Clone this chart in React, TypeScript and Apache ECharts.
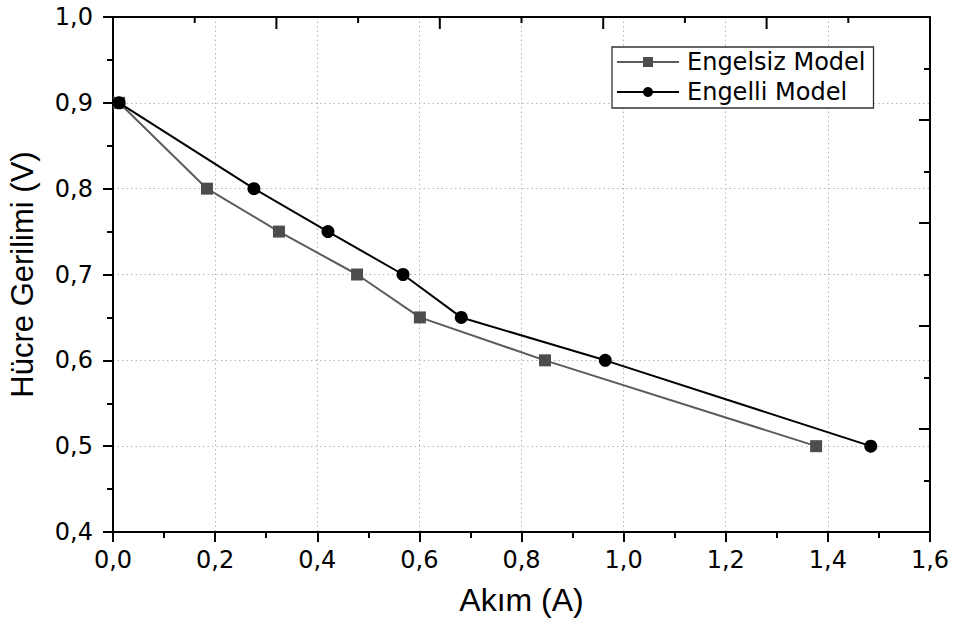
import React, { useEffect, useRef } from "react";
import * as echarts from "echarts";

const engelsizX = [0.012, 0.184, 0.325, 0.478, 0.601, 0.846, 1.377];
const engelsizY = [0.9, 0.8, 0.75, 0.7, 0.65, 0.6, 0.5];
const engelliX = [0.012, 0.276, 0.421, 0.568, 0.682, 0.964, 1.484];
const engelliY = [0.9, 0.8, 0.75, 0.7, 0.65, 0.6, 0.5];
const seriesNames = ["Engelsiz Model", "Engelli Model"];
const xTitle = "Akım (A)";
const yTitle = "Hücre Gerilimi (V)";
// top frame ticks: x position and tick length class (1 = long)
const topTickX = [0.16, 0.32, 0.48, 0.64, 0.8, 0.96, 1.12, 1.28, 1.44];
const topTickLong = [0, 1, 0, 1, 0, 1, 0, 1, 0];

const fmt = (v: number) => v.toFixed(1).replace(".", ",");

export default function App() {
  const ref = useRef<HTMLDivElement>(null);
  useEffect(() => {
    document.body.style.margin = "0";
    const chart = echarts.init(ref.current!, undefined, { renderer: "svg" });
    const tickFont = "DejaVu Sans";
    chart.setOption({
      animation: false,
      backgroundColor: "#fff",
      grid: { left: 113, right: 29, top: 17, bottom: 92, containLabel: false, outerBoundsMode: "none" },
      legend: {
        orient: "vertical",
        left: 612,
        top: 47,
        itemWidth: 62,
        itemHeight: 12.5,
        itemGap: 6,
        padding: [3, 8, 4, 4],
        borderColor: "#333",
        borderWidth: 1.3,
        borderRadius: 0,
        backgroundColor: "#fff",
        textStyle: { fontSize: 24, fontFamily: tickFont, color: "#000", padding: [0, 0, 0, 3] },
        data: seriesNames,
      },
      xAxis: [
        {
          type: "value",
          min: 0,
          max: 1.6,
          interval: 0.2,
          position: "bottom",
          axisLine: { show: true, onZero: false, lineStyle: { color: "#000", width: 2 } },
          axisTick: { show: true, length: 10, lineStyle: { color: "#000", width: 2 } },
          minorTick: { show: true, splitNumber: 2, length: 6, lineStyle: { color: "#000", width: 2 } },
          axisLabel: { formatter: fmt, fontSize: 24, fontFamily: tickFont, color: "#000", margin: 16 },
          splitLine: { show: true, lineStyle: { color: "#b5b5b5", type: [1.5, 3], width: 1 } },
          name: xTitle,
          nameLocation: "middle",
          nameGap: 52,
          nameTextStyle: { fontSize: 32, fontFamily: "Liberation Sans", color: "#000" },
        },
        {
          type: "value",
          position: "top",
          min: 0,
          max: 10,
          interval: 2,
          axisLine: { show: true, onZero: false, lineStyle: { color: "#000", width: 2 } },
          axisTick: { show: false },
          axisLabel: { show: false },
          splitLine: { show: false },
        },
      ],
      yAxis: [
        {
          type: "value",
          min: 0.4,
          max: 1.0,
          interval: 0.1,
          position: "left",
          axisLine: { show: true, onZero: false, lineStyle: { color: "#000", width: 2 } },
          axisTick: { show: true, length: 10, lineStyle: { color: "#000", width: 2 } },
          minorTick: { show: true, splitNumber: 2, length: 6, lineStyle: { color: "#000", width: 2 } },
          axisLabel: { formatter: fmt, fontSize: 24, fontFamily: tickFont, color: "#000", margin: 20 },
          splitLine: { show: true, lineStyle: { color: "#b5b5b5", type: [1.5, 3], width: 1 } },
          name: yTitle,
          nameLocation: "middle",
          nameGap: 75,
          nameTextStyle: { fontSize: 31, fontFamily: "Liberation Sans", color: "#000" },
        },
        {
          type: "value",
          position: "right",
          min: 0,
          max: 10,
          interval: 2,
          axisLine: { show: true, onZero: false, lineStyle: { color: "#000", width: 2 } },
          axisTick: { show: true, inside: true, length: 11, lineStyle: { color: "#000", width: 2 } },
          minorTick: { show: true, splitNumber: 2, length: 6, lineStyle: { color: "#000", width: 2 } },
          axisLabel: { show: false },
          splitLine: { show: false },
        },
      ],
      series: [
        {
          name: seriesNames[0],
          type: "line",
          xAxisIndex: 0,
          yAxisIndex: 0,
          data: engelsizX.map((x, i) => [x, engelsizY[i]]),
          symbol: "rect",
          symbolSize: 12,
          itemStyle: { color: "#4d4d4d" },
          lineStyle: { color: "#5c5c5c", width: 2 },
          z: 3,
        },
        {
          name: seriesNames[1],
          type: "line",
          xAxisIndex: 0,
          yAxisIndex: 0,
          data: engelliX.map((x, i) => [x, engelliY[i]]),
          symbol: "circle",
          symbolSize: 13,
          itemStyle: { color: "#000" },
          lineStyle: { color: "#000", width: 2 },
          z: 4,
        },
        {
          name: "frame",
          type: "line",
          xAxisIndex: 1,
          yAxisIndex: 1,
          data: [],
          silent: true,
        },
        {
          name: "topTicks",
          type: "custom",
          coordinateSystem: "cartesian2d",
          xAxisIndex: 0,
          yAxisIndex: 0,
          silent: true,
          clip: false,
          z: 10,
          encode: { x: 0, y: 1 },
          data: topTickX.map((x, i) => [x, 1.0, topTickLong[i]]),
          renderItem: (_params: any, api: any) => {
            const p = api.coord([api.value(0), api.value(1)]);
            const len = api.value(2) ? 12 : 6;
            return {
              type: "rect",
              shape: { x: p[0] - 1, y: p[1], width: 2, height: len },
              style: { fill: "#000" },
            };
          },
        },
      ],
    });
    return () => chart.dispose();
  }, []);
  return (
    <div
      ref={ref}
      style={{ position: "absolute", left: 0, top: 0, width: 959, height: 624 }}
    />
  );
}
